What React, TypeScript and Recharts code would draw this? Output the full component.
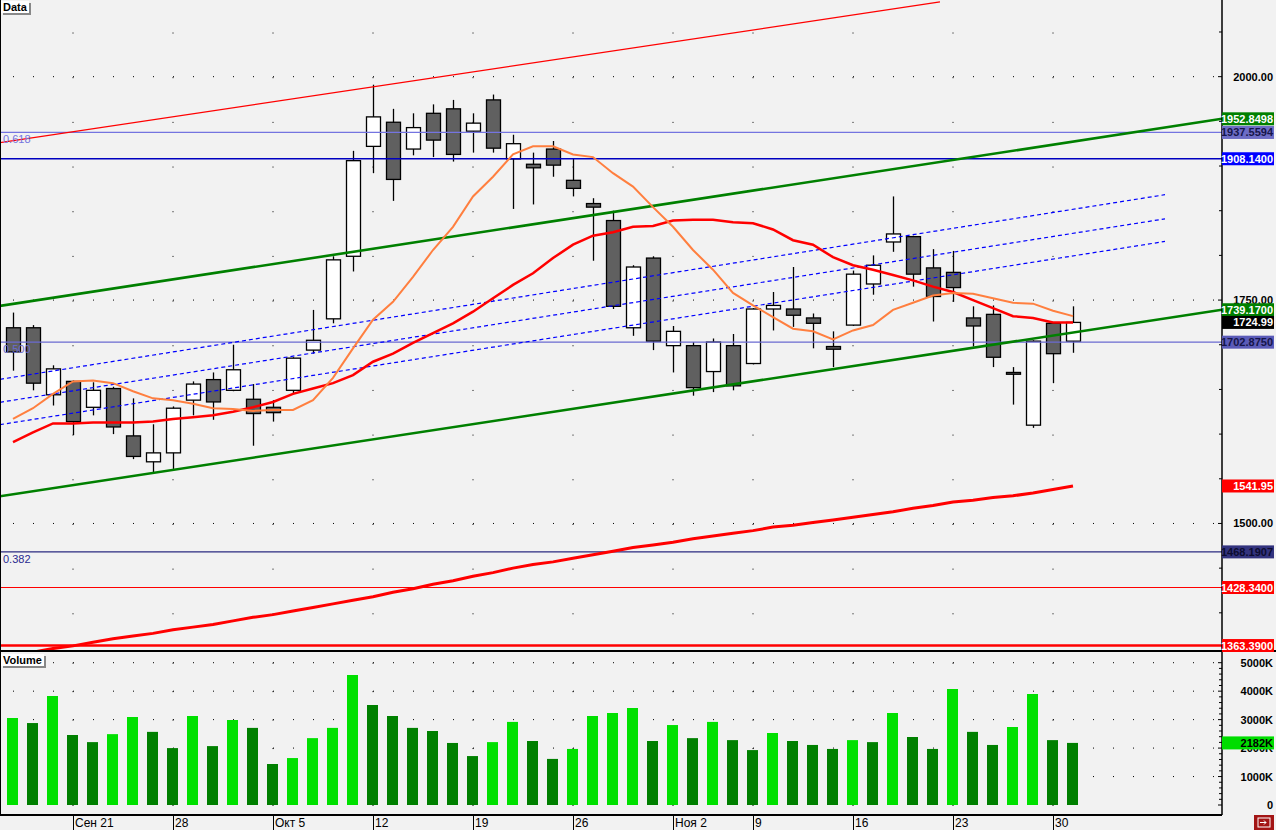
import React from 'react'
import { ComposedChart, Bar, Line, XAxis, YAxis, ReferenceLine, CartesianGrid, Cell } from 'recharts'

// daily candles, 16 Sep .. 1 Dec
const opens = [1719, 1719, 1644, 1659, 1630, 1651, 1598, 1569, 1579, 1638, 1661, 1649, 1639, 1630, 1649, 1694, 1729, 1799, 1922, 1949, 1919, 1959, 1964, 1939, 1974, 1908, 1902, 1919, 1884, 1858, 1839, 1719, 1797, 1699, 1699, 1670, 1699, 1679, 1740, 1740, 1730, 1698, 1722, 1768, 1815, 1821, 1786, 1781, 1730, 1734, 1669, 1610, 1724, 1704]
const highs = [1736, 1722, 1677, 1660, 1658, 1653, 1640, 1611, 1631, 1659, 1669, 1700, 1656, 1638, 1686, 1739, 1799, 1917, 1991, 1964, 1959, 1969, 1974, 1959, 1980, 1935, 1915, 1928, 1909, 1864, 1850, 1789, 1799, 1721, 1703, 1707, 1712, 1741, 1759, 1787, 1735, 1715, 1783, 1800, 1866, 1822, 1807, 1805, 1743, 1744, 1675, 1705, 1725, 1743]
const lows = [1671, 1649, 1632, 1599, 1621, 1600, 1572, 1557, 1561, 1621, 1616, 1648, 1587, 1614, 1646, 1690, 1724, 1782, 1892, 1861, 1912, 1910, 1905, 1915, 1915, 1852, 1857, 1888, 1866, 1794, 1740, 1710, 1694, 1669, 1643, 1647, 1649, 1678, 1716, 1720, 1696, 1675, 1721, 1756, 1804, 1765, 1726, 1748, 1698, 1675, 1633, 1607, 1657, 1691]
const closes = [1692, 1657, 1673, 1614, 1649, 1608, 1575, 1579, 1629, 1656, 1636, 1672, 1623, 1624, 1685, 1705, 1795, 1906, 1955, 1885, 1943, 1929, 1913, 1948, 1920, 1925, 1898, 1901, 1875, 1854, 1743, 1787, 1704, 1715, 1652, 1703, 1654, 1740, 1744, 1733, 1724, 1695, 1779, 1789, 1824, 1779, 1754, 1764, 1721, 1686, 1667, 1704, 1690, 1724.99]
const volumes = [3060, 2880, 3830, 2460, 2210, 2490, 3090, 2570, 2000, 3130, 2070, 2990, 2710, 1440, 1650, 2350, 2710, 4570, 3510, 3130, 2710, 2600, 2180, 1720, 2210, 2920, 2250, 1620, 1970, 3130, 3230, 3410, 2250, 2810, 2350, 2920, 2280, 1930, 2530, 2250, 2110, 1970, 2280, 2210, 3230, 2390, 1970, 4080, 2570, 2110, 2740, 3900, 2280, 2182]

// moving averages as drawn
const maFast = [1617, 1629, 1645, 1659, 1660, 1657, 1648, 1640, 1638, 1634, 1629, 1628, 1626, 1627, 1627, 1638, 1663, 1696, 1728, 1748, 1776, 1806, 1832, 1866, 1888, 1913, 1922, 1922, 1913, 1910, 1892, 1877, 1854, 1832, 1806, 1784, 1758, 1744, 1731, 1718, 1715, 1706, 1716, 1722, 1739, 1747, 1755, 1758, 1757, 1752, 1747, 1746, 1738, 1732]
const maMid = [1591, 1602, 1612, 1612, 1613, 1613, 1613, 1614, 1617, 1619, 1621, 1625, 1630, 1636, 1645, 1651, 1657, 1666, 1681, 1690, 1702, 1713, 1724, 1737, 1752, 1767, 1780, 1797, 1812, 1822, 1826, 1832, 1833, 1839, 1840, 1840, 1837, 1836, 1829, 1817, 1812, 1798, 1789, 1784, 1778, 1772, 1765, 1759, 1750, 1741, 1732, 1730, 1725, 1725]
const maSlow = [1352, 1356, 1360, 1363, 1367, 1371, 1374, 1377, 1381, 1384, 1387, 1391, 1395, 1398, 1402, 1406, 1410, 1414, 1418, 1423, 1427, 1432, 1436, 1441, 1445, 1450, 1454, 1457, 1461, 1465, 1469, 1473, 1476, 1479, 1483, 1486, 1489, 1492, 1496, 1498, 1501, 1504, 1507, 1510, 1513, 1517, 1520, 1524, 1526, 1529, 1531, 1534, 1538, 1541.95]

const weekTickIdx = [3, 8, 13, 18, 23, 28, 33, 37, 42, 47, 52]
const weekTickLabels = ['Сен 21', '28', 'Окт 5', '12', '19', '26', 'Ноя 2', '9', '16', '23', '30']

const priceMinorTicks = [1400, 1450, 1500, 1550, 1600, 1650, 1700, 1750, 1800, 1850, 1900, 1950, 2000, 2050]
const priceMajorTicks = [1500, 1750, 2000]
const volMinorTicks = [0, 200, 400, 600, 800, 1000, 1200, 1400, 1600, 1800, 2000, 2200, 2400, 2600, 2800, 3000, 3200, 3400, 3600, 3800, 4000, 4200, 4400, 4600, 4800, 5000]
const volMajorTicks = [0, 1000, 2000, 3000, 4000, 5000]

// drawn studies: [bar index, price] end points
const fibLevels = [1937.5594, 1702.875, 1468.1907]
const fibNames = ['0.618', '0.500', '0.382']
const blueLevel = 1908.14
const redLevels = [1428.34, 1363.39]
const channelUpper = [[-0.65, 1743.5], [60.45, 1952.8498]]
const channelLower = [[-0.65, 1530.4], [60.45, 1739.17]]
const redRay = [[-0.65, 1926.1], [46.35, 2083.6]]
const dashedLines = [
  [[-0.65, 1661.3], [57.6, 1867.9]],
  [[-0.65, 1635.6], [57.6, 1840.9]],
  [[-0.65, 1610.6], [57.6, 1815.6]],
]

const X_DOMAIN = [-0.65, 60.45]
const PRICE_DOMAIN = [1358.4, 2085.8]
const VOL_DOMAIN = [-351, 5376]

const FONT = "'Liberation Sans', Arial, sans-serif"
const GREEN = '#008000'
const RED = '#ff0000'

const candles = opens.map((o, i) => ({
  i, open: o, high: highs[i], low: lows[i], close: closes[i],
  fast: maFast[i], mid: maMid[i], slow: maSlow[i],
}))
const volData = volumes.map((v, i) => ({ i, vol: v, up: i === 0 || v > volumes[i - 1] }))

const last = closes.length - 1
const priceMarkers = [
  { value: channelUpper[1][1], text: channelUpper[1][1].toFixed(4), bg: GREEN, fg: '#fff' },
  { value: fibLevels[0], text: fibLevels[0].toFixed(4), bg: '#6d6dc6', fg: '#15154a' },
  { value: blueLevel, text: blueLevel.toFixed(4), bg: '#0000ff', fg: '#fff' },
  { value: channelLower[1][1], text: channelLower[1][1].toFixed(4), bg: GREEN, fg: '#fff' },
  { value: closes[last], text: closes[last].toFixed(2), bg: '#000', fg: '#fff' },
  { value: fibLevels[1], text: fibLevels[1].toFixed(4), bg: '#5b5bb8', fg: '#15154a' },
  { value: maSlow[last], text: maSlow[last].toFixed(2), bg: RED, fg: '#fff' },
  { value: fibLevels[2], text: fibLevels[2].toFixed(4), bg: '#33337e', fg: '#0c0c30' },
  { value: redLevels[0], text: redLevels[0].toFixed(4), bg: RED, fg: '#fff' },
  { value: redLevels[1], text: redLevels[1].toFixed(4), bg: RED, fg: '#fff' },
]
const volMarkers = [{ value: volumes[last], text: volumes[last] + 'K', bg: '#00dd00', fg: '#000' }]

function Candle(props: any) {
  const { x, y, width, height, payload } = props
  if (!payload || height == null) return null
  const { open, high, low, close } = payload
  const top = height < 0 ? y + height : y
  const h = Math.abs(height)
  const k = h / (high - low)
  const cx = Math.round(x + width / 2) + 0.5
  const yO = top + (high - open) * k
  const yC = top + (high - close) * k
  const down = close < open
  return (
    <g>
      <line x1={cx} x2={cx} y1={top} y2={top + h} stroke="#000" strokeWidth={1.3} />
      <rect x={cx - 7} y={Math.min(yO, yC)} width={14} height={Math.max(Math.abs(yO - yC), 1)}
        fill={down ? '#606060' : '#fff'} stroke="#000" strokeWidth={1.3} />
    </g>
  )
}

function makeAxisTick(markers: any[], majors: number[], fmt: (v: number) => string) {
  return (props: any) => {
    const { x, y, payload } = props
    const v = payload.value
    const m = markers.find((mk) => mk.value === v)
    if (m) {
      return (
        <g>
          <rect x={x} y={y - 6.5} width={52} height={13} fill={m.bg} />
          <text x={x + 51} y={y + 4} textAnchor="end" fill={m.fg} fontSize={11} fontWeight="bold" fontFamily={FONT}>{m.text}</text>
        </g>
      )
    }
    const major = majors.includes(v)
    return (
      <g>
        <line x1={x - (major ? 4 : 3)} x2={x} y1={y} y2={y} stroke="#000" />
        {major && (
          <text x={x + 51} y={y + 4} textAnchor="end" fill="#000" fontSize={11} fontWeight="bold" fontFamily={FONT}>{fmt(v)}</text>
        )}
      </g>
    )
  }
}

const PriceTick = makeAxisTick(priceMarkers, priceMajorTicks, (v) => v.toFixed(2))
const VolTick = makeAxisTick(volMarkers, volMajorTicks, (v) => (v === 0 ? '0' : v + 'K'))

function DateTick(props: any) {
  const { x, y, payload } = props
  const k = weekTickIdx.indexOf(payload.value)
  return (
    <g>
      <line x1={x + 0.5} x2={x + 0.5} y1={y + 1} y2={y + 15} stroke="#000" />
      <text x={x + 2} y={y + 12} fontSize={12} fontFamily={FONT} fill="#000">{weekTickLabels[k]}</text>
    </g>
  )
}

const boxLabel: React.CSSProperties = {
  position: 'absolute', left: 1, background: '#fff', boxShadow: '2px 2px 0 #888',
  font: `bold 11px ${FONT}`, lineHeight: '12px', padding: '0 2px', color: '#000',
}

export default function App() {
  return (
    <div style={{ position: 'absolute', left: 0, top: 0, width: 1276, height: 830, background: '#f2f2f2', overflow: 'hidden' }}>
      <div style={{ position: 'absolute', left: 0, top: 650, width: 1276, height: 2, background: '#000' }} />

      <div style={{ position: 'absolute', left: 0, top: 652 }}>
        <ComposedChart width={1276} height={178} data={volData} margin={{ top: 0, right: 0, bottom: 0, left: 0 }}>
          <CartesianGrid horizontal vertical={false} horizontalValues={volMajorTicks.slice(1)} stroke="#000" strokeDasharray="1 19" strokeDashoffset={7} />
          <CartesianGrid horizontal={false} vertical verticalValues={weekTickIdx} stroke="#000" strokeDasharray="1 27.46" strokeDashoffset={17.76} />
          <XAxis dataKey="i" type="number" domain={X_DOMAIN} allowDataOverflow height={15}
            ticks={weekTickIdx} interval={0} tick={DateTick} tickLine={false} tickSize={0} tickMargin={0}
            axisLine={{ stroke: '#000', strokeWidth: 2 }} />
          <YAxis orientation="right" width={54} domain={VOL_DOMAIN} allowDataOverflow
            ticks={[...volMinorTicks, ...volMarkers.map((m) => m.value)]} interval={0}
            tick={VolTick} tickLine={false} tickSize={0} tickMargin={0}
            axisLine={{ stroke: '#000', strokeWidth: 1.5 }} />
          <Bar dataKey="vol" barSize={11} isAnimationActive={false}>
            {volData.map((d) => (
              <Cell key={d.i} fill={d.up ? '#00e000' : '#008000'} />
            ))}
          </Bar>
        </ComposedChart>
      </div>

      <div style={{ position: 'absolute', left: 0, top: 0 }}>
        <ComposedChart width={1276} height={652} data={candles} margin={{ top: 0, right: 0, bottom: 2, left: 0 }}>
          <CartesianGrid horizontal vertical={false} horizontalValues={priceMajorTicks} stroke="#000" strokeDasharray="1 19" strokeDashoffset={7} />
          <CartesianGrid horizontal={false} vertical verticalValues={weekTickIdx} stroke="#000" strokeDasharray="1 43.675" strokeDashoffset={12.15} />
          <XAxis dataKey="i" type="number" domain={X_DOMAIN} allowDataOverflow hide />
          <YAxis orientation="right" width={54} domain={PRICE_DOMAIN} allowDataOverflow
            ticks={[...priceMinorTicks, ...priceMarkers.map((m) => m.value)]} interval={0}
            tick={PriceTick} tickLine={false} tickSize={0} tickMargin={0}
            axisLine={{ stroke: '#000', strokeWidth: 1.5 }} />
          <Bar dataKey={(d: any) => [d.low, d.high]} shape={(p: any) => <Candle {...p} />} barSize={14} isAnimationActive={false} />

          <ReferenceLine y={fibLevels[0]} stroke="#7474e0" strokeWidth={1.2}
            label={{ value: fibNames[0], position: 'insideTopLeft', offset: 3, fill: '#7474e0', fontSize: 11, fontFamily: FONT }} />
          <ReferenceLine y={fibLevels[1]} stroke="#6a6ad0" strokeWidth={1.2}
            label={{ value: fibNames[1], position: 'insideTopLeft', offset: 3, fill: '#6a6ad0', fontSize: 11, fontFamily: FONT }} />
          <ReferenceLine y={fibLevels[2]} stroke="#2a2a80" strokeWidth={1.2}
            label={{ value: fibNames[2], position: 'insideTopLeft', offset: 3, fill: '#2a2a90', fontSize: 11, fontFamily: FONT }} />
          <ReferenceLine y={blueLevel} stroke="#0000c0" strokeWidth={1.4} />
          <ReferenceLine y={redLevels[0]} stroke={RED} strokeWidth={1.2} />
          <ReferenceLine y={redLevels[1]} stroke={RED} strokeWidth={2.6} />

          <ReferenceLine segment={redRay.map(([x, y]) => ({ x, y }))} stroke={RED} strokeWidth={1.3} ifOverflow="hidden" />
          {dashedLines.map((ln, k) => (
            <ReferenceLine key={k} segment={ln.map(([x, y]) => ({ x, y }))} stroke="#0000ff" strokeWidth={1.2} strokeDasharray="4 3" ifOverflow="hidden" />
          ))}
          <ReferenceLine segment={channelUpper.map(([x, y]) => ({ x, y }))} stroke={GREEN} strokeWidth={2.6} ifOverflow="hidden" />
          <ReferenceLine segment={channelLower.map(([x, y]) => ({ x, y }))} stroke={GREEN} strokeWidth={2.6} ifOverflow="hidden" />

          <Line dataKey="slow" type="linear" stroke={RED} strokeWidth={3} dot={false} isAnimationActive={false} />
          <Line dataKey="mid" type="linear" stroke={RED} strokeWidth={2.5} dot={false} isAnimationActive={false} />
          <Line dataKey="fast" type="linear" stroke="#ff7f3f" strokeWidth={2} dot={false} isAnimationActive={false} />
        </ComposedChart>
      </div>

      <div style={{ position: 'absolute', left: 0, top: 0, width: 1, height: 816, background: '#000' }} />
      <div style={{ ...boxLabel, top: 1 }}>Data</div>
      <div style={{ ...boxLabel, top: 654 }}>Volume</div>
      <svg style={{ position: 'absolute', left: 1254, top: 815 }} width={20} height={15}>
        <rect x={0} y={0} width={20} height={15} fill="#a31515" />
        <rect x={4} y={3} width={12} height={9} fill="none" stroke="#fff" />
        <path d="M6 7.5 H12 M10 5.5 L12 7.5 L10 9.5" stroke="#fff" fill="none" />
      </svg>
    </div>
  )
}
